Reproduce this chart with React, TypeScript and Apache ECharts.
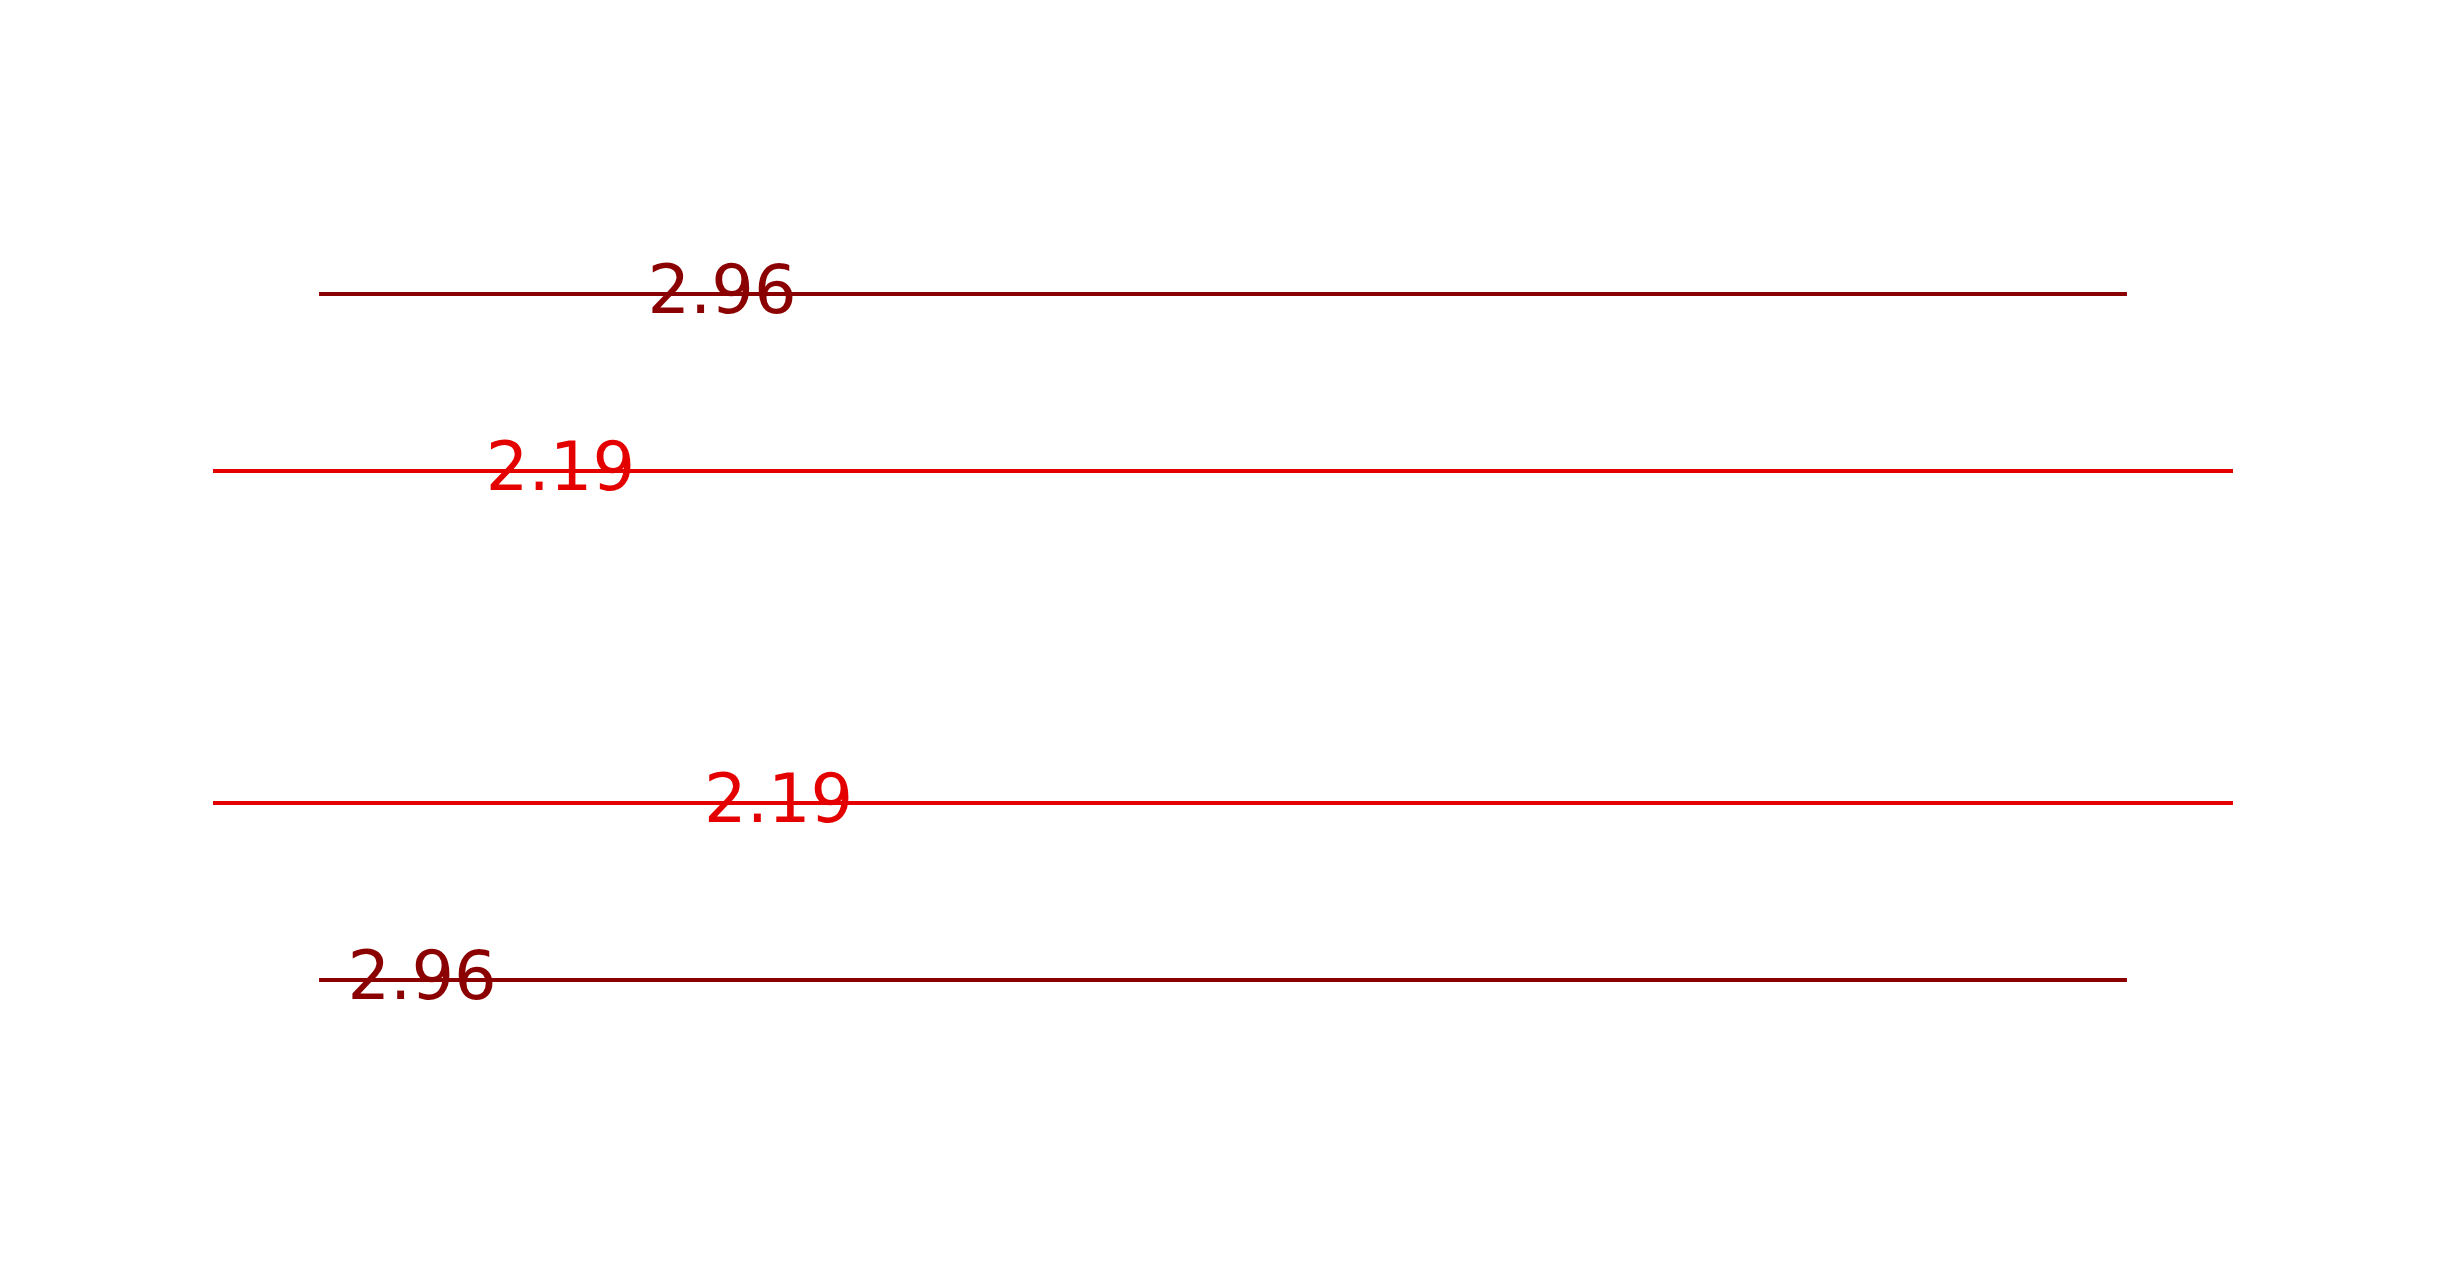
import { useEffect, useRef } from "react";
import * as echarts from "echarts";

// four horizontal levels, top to bottom
const levelY = [2.067, 1.0, -1.0, -2.067];
const levelHalfSpan = [0.895, 1.0, 1.0, 0.895];
const labelTexts = ["2.96", "2.19", "2.19", "2.96"];
const labelX = [-0.496, -0.656, -0.44, -0.793];

const DARK = "#8b0000";
const RED = "#e50000";
const levelColors = [DARK, RED, RED, DARK];

const App: React.FC = () => {
  const chartRef = useRef<HTMLDivElement>(null);

  useEffect(() => {
    if (!chartRef.current) return;
    const chart = echarts.init(chartRef.current, undefined, { renderer: "svg" });

    const lineSeries = levelY.map((y, i) => ({
      type: "line",
      data: [
        [-levelHalfSpan[i], y],
        [levelHalfSpan[i], y],
      ],
      showSymbol: false,
      silent: true,
      lineStyle: { color: levelColors[i], width: 4, opacity: 1 },
      z: 2,
    }));

    const labelSeries = levelY.map((y, i) => ({
      type: "scatter",
      data: [[labelX[i], y, labelTexts[i]]],
      symbolSize: 0,
      silent: true,
      z: 3,
      itemStyle: { opacity: 1, color: levelColors[i] },
      label: {
        show: true,
        position: "inside",
        offset: [0, -4],
        formatter: (p: any) => p.value[2],
        color: levelColors[i],
        opacity: 1,
        textBorderWidth: 0,
        fontSize: 67,
        fontFamily: "DejaVu Sans",
      },
    }));

    chart.setOption({
      animation: false,
      backgroundColor: "#ffffff",
      grid: { left: 112, right: 110, top: 222, bottom: 223 },
      xAxis: { type: "value", min: -1.1, max: 1.1, show: false },
      yAxis: { type: "value", min: -2.5, max: 2.5, show: false },
      series: [...lineSeries, ...labelSeries],
    });

    return () => {
      chart.dispose();
    };
  }, []);

  return (
    <div
      ref={chartRef}
      style={{ position: "fixed", left: 0, top: 0, width: "2444px", height: "1275px" }}
    />
  );
};

export default App;
